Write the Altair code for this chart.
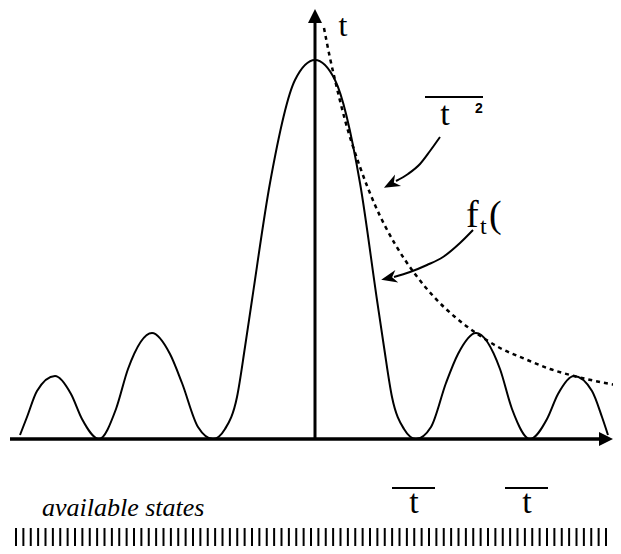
import altair as alt
import pandas as pd

# ---- data (x: 1 unit = 100 px, y: intensity units) ----
curve_x = [-2.95, -2.88, -2.78, -2.60, -2.44, -2.33, -2.16,
           -1.99, -1.87, -1.63, -1.45, -1.33, -1.17, -1.02,
           -0.90, -0.78, -0.70, -0.63, -0.45, -0.20, 0.00,
           0.20, 0.45, 0.62, 0.69, 0.77, 0.89, 1.01,
           1.16, 1.31, 1.43, 1.61, 1.85, 1.97, 2.15,
           2.32, 2.43, 2.59, 2.77, 2.87, 2.93]
curve_y = [0.04, 0.22, 0.48, 0.63, 0.45, 0.20, 0.00,
           0.30, 0.70, 1.06, 0.85, 0.56, 0.12, 0.00,
           0.10, 0.42, 0.92, 1.39, 2.56, 3.59, 3.79,
           3.59, 2.56, 1.39, 0.92, 0.42, 0.10, 0.00,
           0.12, 0.56, 0.85, 1.06, 0.70, 0.30, 0.00,
           0.20, 0.45, 0.63, 0.48, 0.22, 0.04]

env_x = [0.09, 0.15, 0.20, 0.30, 0.45, 0.60, 0.80, 1.00, 1.20, 1.40,
         1.61, 1.85, 2.10, 2.35, 2.59, 2.85, 3.06]
env_y = [4.11, 3.81, 3.59, 3.19, 2.72, 2.34, 1.95, 1.65, 1.41, 1.22,
         1.06, 0.91, 0.80, 0.70, 0.63, 0.57, 0.53]

state_index = list(range(81))  # evenly spaced available states

arrow1_x = [0.81, 0.93, 1.05, 1.15, 1.25]
arrow1_y = [2.58, 2.65, 2.75, 2.88, 3.02]
arrow2_x = [0.79, 0.95, 1.12, 1.28, 1.45, 1.58]
arrow2_y = [1.62, 1.67, 1.74, 1.82, 1.96, 2.09]

# ---- scales ----
XS = alt.Scale(domain=[-3.07, 2.98], nice=False, zero=False)
YS = alt.Scale(domain=[-1.07, 4.31], nice=False, zero=False)

def X(f="x"):
    return alt.X(f + ":Q", scale=XS, axis=None)

def Y(f="y"):
    return alt.Y(f + ":Q", scale=YS, axis=None)

curve = alt.Chart(pd.DataFrame({"x": curve_x, "y": curve_y})).mark_line(
    color="black", strokeWidth=2, interpolate="monotone"
).encode(x=X(), y=Y())

env = alt.Chart(pd.DataFrame({"x": env_x, "y": env_y})).mark_line(
    color="black", strokeWidth=2.5, strokeDash=[4, 4], interpolate="monotone"
).encode(x=X(), y=Y())

xaxis = alt.Chart(pd.DataFrame({"x": [-3.05], "x2": [2.88], "y": [0.0]})).mark_rule(
    color="black", strokeWidth=3.5
).encode(x=X(), x2="x2:Q", y=Y())

yaxis = alt.Chart(pd.DataFrame({"x": [0.0], "y": [0.0], "y2": [4.2]})).mark_rule(
    color="black", strokeWidth=3
).encode(x=X(), y=Y(), y2="y2:Q")

axis_heads = alt.Chart(pd.DataFrame({"x": [2.91, 0.0], "y": [0.0, 4.23], "a": [0, 270]})).mark_point(
    shape="M 1 0 L -1 -1 L -1 1 Z", filled=True, color="black", opacity=1, size=196
).encode(x=X(), y=Y(), angle=alt.Angle("a:Q", scale=None))

shafts = alt.Chart(pd.DataFrame({
    "x": arrow1_x + arrow2_x,
    "y": arrow1_y + arrow2_y,
    "g": ["a"] * len(arrow1_x) + ["b"] * len(arrow2_x),
})).mark_line(color="black", strokeWidth=2, interpolate="monotone").encode(
    x=X(), y=Y(), detail="g:N"
)

barbs = alt.Chart(pd.DataFrame({"x": [0.76, 0.74], "y": [2.55, 1.61], "a": [152, 167]})).mark_point(
    shape="M 1 0 L -1 -0.8 L -0.4 0 L -1 0.8 Z", filled=True, color="black", opacity=1, size=256
).encode(x=X(), y=Y(), angle=alt.Angle("a:Q", scale=None))

SERIF = "Liberation Serif"

def txt(df, size, align="center", style="normal", weight="normal", font=SERIF):
    return alt.Chart(df).mark_text(
        font=font, fontSize=size, align=align, baseline="alphabetic",
        fontStyle=style, fontWeight=weight, color="black"
    ).encode(x=X(), y=Y(), text="t:N")

t_top = txt(pd.DataFrame({"x": [0.28], "y": [4.03], "t": ["t"]}), 32)
t_env = txt(pd.DataFrame({"x": [1.30], "y": [3.14], "t": ["t"]}), 34)
sup2 = txt(pd.DataFrame({"x": [1.64], "y": [3.26], "t": ["2"]}), 14, weight="bold", font="Liberation Sans")
f_lab = txt(pd.DataFrame({"x": [1.51, 1.74], "y": [2.12, 2.12], "t": ["f", "("]}), 38, align="left")
f_sub = txt(pd.DataFrame({"x": [1.65], "y": [2.05], "t": ["t"]}), 24, align="left")
avail = txt(pd.DataFrame({"x": [-2.73], "y": [-0.77], "t": ["available states"]}), 26, align="left", style="italic")
t_bot = txt(pd.DataFrame({"x": [0.99, 2.12], "y": [-0.74, -0.74], "t": ["t", "t"]}), 34)

overlines = alt.Chart(pd.DataFrame({
    "x": [1.10, 0.77, 1.90], "x2": [1.68, 1.20, 2.33], "y": [3.42, -0.49, -0.49]
})).mark_rule(color="black", strokeWidth=2).encode(x=X(), x2="x2:Q", y=Y())

ticks = alt.Chart(pd.DataFrame({"n": state_index, "y": [-0.89] * 81, "y2": [-1.07] * 81})).mark_rule(
    color="black", strokeWidth=2
).encode(
    x=alt.X("n:Q", scale=alt.Scale(domain=[0, 80], range=[8, 598], nice=False, zero=False), axis=None),
    y=Y(), y2="y2:Q"
)

chart = alt.layer(
    curve, env, xaxis, yaxis, axis_heads, shafts, barbs,
    t_top, t_env, sup2, f_lab, f_sub, avail, t_bot, overlines, ticks
).resolve_scale(x="independent").properties(
    width=605, height=538, padding=0, autosize=alt.AutoSizeParams(type="none")
).configure_view(stroke=None)

chart.save("out.html", embed_options={"renderer": "svg", "actions": False})
